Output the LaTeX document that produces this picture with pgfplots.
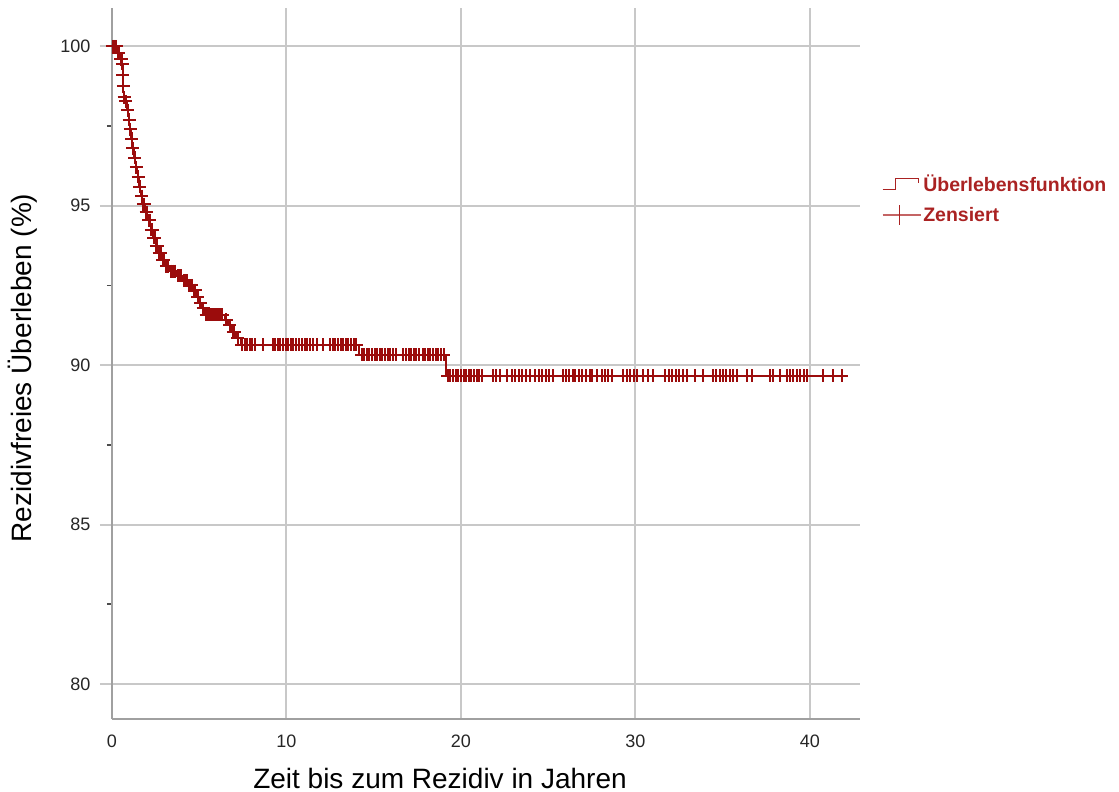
\documentclass[border=0pt]{standalone}
\usepackage{pgfplots}
\pgfplotsset{compat=1.18}
\usepackage{fontspec}
\setmainfont{Liberation Sans}

\definecolor{kmred}{RGB}{155,12,12}
\definecolor{legred}{RGB}{170,34,34}
\definecolor{gridc}{RGB}{200,200,200}
\definecolor{axisc}{RGB}{160,160,160}

% legend glyphs: step function and censoring tick
\pgfplotsset{
  stepsample/.style={legend image code/.code={%
    \draw[legred, line width=1.4pt] (0pt,-5pt) -- (13pt,-5pt) -- (13pt,6pt) -- (36pt,6pt) -- (36pt,1pt);}},
  censsample/.style={legend image code/.code={%
    \draw[legred!70, line width=1.4pt] (0pt,0pt) -- (38pt,0pt);
    \draw[legred, line width=1.4pt] (17pt,-10pt) -- (17pt,10pt);}},
}

\begin{document}
\begin{tikzpicture}
\useasboundingbox (0,0) rectangle (1119pt,792pt);
\begin{axis}[
  at={(112pt,73pt)}, anchor=south west,
  scale only axis, width=748pt, height=711pt,
  xmin=0, xmax=42.87, ymin=78.9, ymax=101.2,
  axis x line*=bottom, axis y line*=left,
  axis line style={draw=axisc, line width=2pt},
  xtick={0,10,20,30,40},
  ytick={80,85,90,95,100},
  minor ytick={82.5,87.5,92.5,97.5},
  grid=major,
  major grid style={draw=gridc, line width=2pt},
  tick align=outside,
  major tick length=12pt, minor tick length=5pt,
  major tick style={draw=gridc, line width=2pt},
  minor tick style={draw=black!70, line width=1.5pt},
  xtick style={draw=none},
  /pgf/number format/assume math mode=true,
  ticklabel style={font=\fontsize{18}{20}\selectfont, text=black!85},
  yticklabel style={xshift=-6pt},
  xlabel={Zeit bis zum Rezidiv in Jahren},
  ylabel={Rezidivfreies Überleben (\%)},
  xlabel style={at={(axis description cs:0.4385,-0.083)}, anchor=center,
    font=\fontsize{28}{30}\selectfont, text=black},
  ylabel style={at={(axis description cs:-0.119,0.4937)}, anchor=center,
    font=\fontsize{28}{30}\selectfont, text=black},
  legend style={at={(axis description cs:1.029,0.768)}, anchor=north west,
    draw=none, fill=none, inner sep=0pt,
    font=\bfseries\fontsize{19.5}{22}\selectfont, text=legred,
    row sep=9pt},
  legend cell align=left,
  clip=false,
]
\addlegendimage{stepsample}
\addlegendentry{Überlebensfunktion}
\addlegendimage{censsample}
\addlegendentry{Zensiert}

% Kaplan-Meier step function
\addplot[const plot, kmred, line width=1.4pt, forget plot] coordinates {
(0,100) (0.3,99.8) (0.45,99.6) (0.58,99.45) (0.62,99.1) (0.64,98.75)
(0.66,98.4) (0.75,98.27) (0.85,98.0) (0.95,97.7) (1.02,97.4) (1.08,97.1)
(1.15,96.8) (1.25,96.5) (1.35,96.2) (1.45,95.9) (1.55,95.6) (1.65,95.3)
(1.75,95.05) (1.9,94.8) (2.05,94.55) (2.2,94.25) (2.35,94.0) (2.5,93.75)
(2.65,93.5) (2.85,93.3) (3.05,93.1) (3.3,92.95) (3.7,92.8) (4.05,92.65)
(4.35,92.5) (4.65,92.35) (4.85,92.15) (5.0,91.95) (5.15,91.78) (5.3,91.58)
(6.45,91.42) (6.65,91.25) (6.85,91.05) (7.1,90.85) (7.35,90.64)
(14.15,90.32) (19.15,89.66) (42.0,89.66)
};

% censored observations
\addplot[only marks, mark=+, mark size=6.5pt, kmred, line width=2pt, forget plot] coordinates {
(0.05,100) (0.12,100) (0.2,100) (0.25,100)
(0.35,99.8) (0.4,99.8) (0.5,99.6) (0.55,99.6) (0.6,99.45) (0.63,99.1)
(0.65,98.75) (0.7,98.4) (0.8,98.27) (0.9,98.0) (0.98,97.7) (1.05,97.4)
(1.12,97.1) (1.2,96.8) (1.3,96.5) (1.4,96.2) (1.5,95.9) (1.6,95.6)
(1.7,95.3) (1.8,95.05) (1.85,95.05) (1.95,94.8) (2.0,94.8)
(2.1,94.55) (2.15,94.55) (2.25,94.25) (2.3,94.25) (2.4,94.0) (2.45,94.0)
(2.55,93.75) (2.6,93.75) (2.7,93.5) (2.78,93.5) (2.92,93.3) (2.98,93.3)
(3.12,93.1) (3.2,93.1) (3.4,92.95) (3.5,92.95) (3.6,92.95)
(3.8,92.8) (3.9,92.8) (3.98,92.8) (4.12,92.65) (4.2,92.65) (4.28,92.65)
(4.42,92.5) (4.5,92.5) (4.58,92.5) (4.72,92.35) (4.78,92.35)
(4.92,92.15) (5.07,91.95) (5.22,91.78)
(5.4,91.58) (5.5,91.58) (5.6,91.58) (5.7,91.58) (5.8,91.58) (5.9,91.58)
(6.0,91.58) (6.1,91.58) (6.2,91.58) (6.32,91.58)
(6.55,91.42) (6.75,91.25) (6.95,91.05) (7.02,91.05) (7.2,90.85)
(7.45,90.64) (7.6,90.64) (7.75,90.64) (7.9,90.64) (8.05,90.64) (8.2,90.64)
(8.65,90.64) (9.2,90.64) (9.35,90.64) (9.5,90.64) (9.65,90.64) (9.8,90.64)
(9.95,90.64) (10.1,90.64) (10.25,90.64) (10.4,90.64) (10.55,90.64) (10.7,90.64)
(10.9,90.64) (11.05,90.64) (11.2,90.64) (11.35,90.64) (11.52,90.64)
(11.75,90.64) (12.09,90.64) (12.5,90.64) (12.65,90.64) (12.8,90.64)
(12.95,90.64) (13.1,90.64) (13.25,90.64) (13.4,90.64) (13.55,90.64)
(13.7,90.64) (13.85,90.64) (14.0,90.64)
(14.3,90.32) (14.45,90.32) (14.6,90.32) (14.75,90.32) (14.9,90.32)
(15.05,90.32) (15.2,90.32) (15.35,90.32) (15.5,90.32) (15.65,90.32)
(15.8,90.32) (15.95,90.32) (16.1,90.32) (16.25,90.32)
(16.7,90.32) (16.85,90.32) (17.0,90.32) (17.15,90.32) (17.3,90.32)
(17.45,90.32) (17.6,90.32) (17.8,90.32) (17.95,90.32) (18.1,90.32)
(18.25,90.32) (18.4,90.32) (18.55,90.32) (18.7,90.32) (18.85,90.32) (19.0,90.32)
(19.25,89.66) (19.4,89.66) (19.55,89.66) (19.7,89.66) (19.85,89.66)
(20.0,89.66) (20.15,89.66) (20.3,89.66) (20.45,89.66) (20.6,89.66)
(20.75,89.66) (20.9,89.66) (21.05,89.66) (21.2,89.66)
(21.83,89.66) (22.0,89.66) (22.23,89.66) (22.64,89.66)
(22.92,89.66) (23.1,89.66) (23.3,89.66) (23.5,89.66) (23.7,89.66) (23.95,89.66)
(24.24,89.66) (24.45,89.66) (24.65,89.66) (24.85,89.66) (25.05,89.66) (25.27,89.66)
(25.85,89.66) (26.0,89.66) (26.2,89.66) (26.42,89.66)
(26.53,89.66) (26.75,89.66) (26.95,89.66) (27.15,89.66) (27.39,89.66)
(27.51,89.66) (27.8,89.66) (28.08,89.66) (28.25,89.66) (28.45,89.66) (28.65,89.66)
(29.28,89.66) (29.5,89.66) (29.7,89.66) (29.9,89.66) (30.09,89.66)
(30.43,89.66) (30.72,89.66) (31.0,89.66)
(31.69,89.66) (31.9,89.66) (32.1,89.66) (32.3,89.66) (32.5,89.66) (32.75,89.66) (32.95,89.66)
(33.41,89.66) (33.87,89.66) (34.44,89.66) (34.6,89.66) (34.84,89.66)
(35.01,89.66) (35.2,89.66) (35.4,89.66) (35.6,89.66) (35.82,89.66)
(36.39,89.66) (36.68,89.66) (37.71,89.66) (37.88,89.66) (38.28,89.66) (38.68,89.66)
(38.85,89.66) (39.05,89.66) (39.25,89.66) (39.45,89.66) (39.65,89.66) (39.83,89.66)
(40.74,89.66) (41.32,89.66) (41.83,89.66)
};
\end{axis}
\end{tikzpicture}
\end{document}
